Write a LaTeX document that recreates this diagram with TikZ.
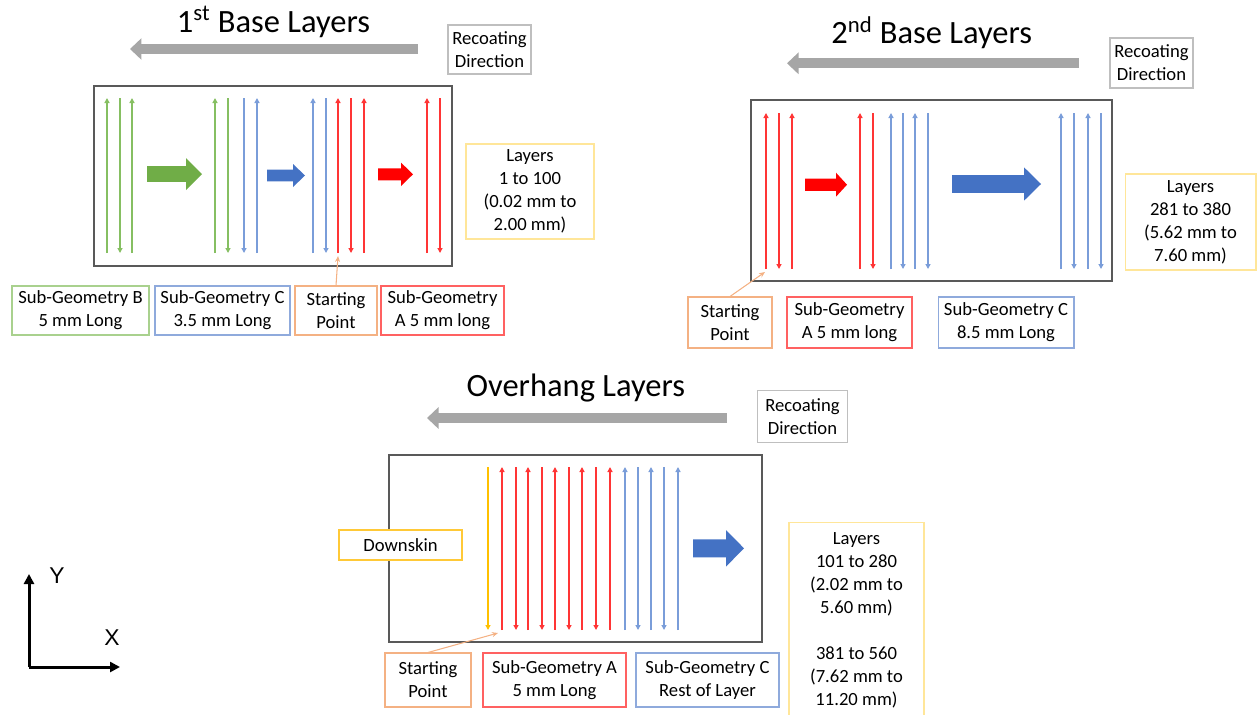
\documentclass[tikz,border=0pt]{standalone}
\usepackage{fontspec}
\setmainfont{Carlito}
\newfontfamily\axisfont{Liberation Sans}
\usepackage{tikz}
\usetikzlibrary{arrows.meta}
\definecolor{framegray}{HTML}{595959}
\definecolor{recoatgray}{HTML}{A6A6A6}
\definecolor{bdgray}{HTML}{BFBFBF}
\definecolor{bdgreen}{HTML}{A9D18E}
\definecolor{bdblue}{HTML}{8FAADC}
\definecolor{bdorange}{HTML}{F4B183}
\definecolor{bdred}{HTML}{FF6161}
\definecolor{bdyellow}{HTML}{FFE699}
\definecolor{bdgold}{HTML}{FFC937}
\definecolor{scangreen}{HTML}{86BF62}
\definecolor{scanblue}{HTML}{7A9DD9}
\definecolor{scanred}{HTML}{FF3535}
\definecolor{scanyellow}{HTML}{FFC000}
\definecolor{arrgreen}{HTML}{70AD47}
\definecolor{arrblue}{HTML}{4472C4}
\definecolor{arrred}{HTML}{FF0000}
\tikzset{
  lblbox/.style={rectangle,draw,line width=0.6pt,fill=white,text=black,align=center,
    font=\fontsize{10.6}{13.1}\selectfont,inner sep=2pt},
  greenbox/.style={lblbox,draw=bdgreen},
  bluebox/.style={lblbox,draw=bdblue},
  orangebox/.style={lblbox,draw=bdorange},
  redbox/.style={lblbox,draw=bdred},
  layerbox/.style={lblbox,draw=bdyellow},
  recoatbox/.style={lblbox,draw=bdgray},
  panelframe/.style={draw=framegray,line width=0.8pt},
  scan/.style={line width=0.8pt,-{Triangle[length=0.1cm,width=0.1cm]}},
  recoat/.style={draw=recoatgray,line width=0.2cm,-{Triangle[length=0.23cm,width=0.42cm]}},
  leader/.style={draw=bdorange,line width=0.6pt,-{Stealth[length=0.12cm,width=0.1cm]}},
  titletext/.style={font=\fontsize{18.5}{22}\selectfont,anchor=base},
  axisarr/.style={line width=0.06cm,-{Triangle[length=0.2cm,width=0.2cm]}},
  axislabel/.style={font=\axisfont\fontsize{13}{15}\selectfont},
}
\begin{document}
\begin{tikzpicture}[x=0.02cm,y=-0.02cm]
  \useasboundingbox (0,0) rectangle (1257,714);

  % 1st base layers
  \node[titletext] (title1) at (273.5,32) {1\textsuperscript{st} Base Layers};
  \draw[recoat] (418,49) -- (130,49);
  \node[recoatbox,minimum width=1.66cm,minimum height=0.98cm] (rd1) at (489.5,49.5) {Recoating\\Direction};
  \draw[panelframe] (94,86) rectangle (452,266);
  \foreach \x in {107,132,215} \draw[scan,scangreen] (\x,253) -- (\x,98);
  \foreach \x in {120,228} \draw[scan,scangreen] (\x,98) -- (\x,253);
  \foreach \x in {257,313} \draw[scan,scanblue] (\x,253) -- (\x,98);
  \foreach \x in {244,326} \draw[scan,scanblue] (\x,98) -- (\x,253);
  \foreach \x in {338,364,427} \draw[scan,scanred] (\x,253) -- (\x,98);
  \foreach \x in {351,440} \draw[scan,scanred] (\x,98) -- (\x,253);
  \node[layerbox,minimum width=2.56cm,minimum height=1.9cm] (lay1) at (530,191.5) {Layers\\1 to 100\\(0.02 mm to\\2.00 mm)};
  \node[greenbox,minimum width=2.74cm,minimum height=0.98cm] (sgb1) at (80.5,310.5) {Sub-Geometry B\\5 mm Long};
  \node[bluebox,minimum width=2.7cm,minimum height=0.98cm] (sgc1) at (222.5,310.5) {Sub-Geometry C\\3.5 mm Long};
  \node[orangebox,minimum width=1.64cm,minimum height=0.98cm] (sp1) at (336,310.5) {Starting\\Point};
  \node[redbox,minimum width=2.46cm,minimum height=0.98cm] (sga1) at (442.5,310.5) {Sub-Geometry\\A 5 mm long};
  \coordinate (sp1tip) at (338,256);
  \draw[leader] (sp1.north) -- (sp1tip);

  % 2nd base layers
  \node[titletext] (title2) at (931.7,43.3) {2\textsuperscript{nd} Base Layers};
  \draw[recoat] (1079,63.3) -- (787,63.3);
  \node[recoatbox,minimum width=1.66cm,minimum height=1cm] (rd2) at (1151.5,63) {Recoating\\Direction};
  \draw[panelframe] (751,100) rectangle (1112,281);
  \foreach \x in {766,792,860} \draw[scan,scanred] (\x,269) -- (\x,113);
  \foreach \x in {779,873} \draw[scan,scanred] (\x,113) -- (\x,269);
  \foreach \x in {891,915,1061,1088} \draw[scan,scanblue] (\x,269) -- (\x,113);
  \foreach \x in {903,928,1074,1101} \draw[scan,scanblue] (\x,113) -- (\x,269);
  \node[layerbox,minimum width=2.62cm,minimum height=1.92cm] (lay2) at (1190.5,222) {Layers\\281 to 380\\(5.62 mm to\\7.60 mm)};
  \node[orangebox,minimum width=1.68cm,minimum height=1.02cm] (sp2) at (730,322.5) {Starting\\Point};
  \node[redbox,minimum width=2.5cm,minimum height=1.02cm] (sga2) at (849.5,322.5) {Sub-Geometry\\A 5 mm long};
  \node[bluebox,minimum width=2.72cm,minimum height=1.02cm] (sgc2) at (1006,322.5) {Sub-Geometry C\\8.5 mm Long};
  \coordinate (sp2tip) at (765,272);
  \draw[leader] (sp2.north) -- (sp2tip);

  % overhang layers
  \node[titletext] (title3) at (575.8,396.7) {Overhang Layers};
  \draw[recoat] (727,418) -- (427,418);
  \node[recoatbox,minimum width=1.8cm,minimum height=1.04cm] (rd3) at (802.5,416.5) {Recoating\\Direction};
  \draw[panelframe] (389,455) rectangle (762,642);
  \draw[scan,scanyellow] (488,467) -- (488,630);
  \foreach \x in {502,528,555,582,610} \draw[scan,scanred] (\x,630) -- (\x,467);
  \foreach \x in {516,542,569,596} \draw[scan,scanred] (\x,467) -- (\x,630);
  \foreach \x in {625,651,678} \draw[scan,scanblue] (\x,630) -- (\x,467);
  \foreach \x in {638,664} \draw[scan,scanblue] (\x,467) -- (\x,630);
  \node[lblbox,draw=bdgold,minimum width=2.46cm,minimum height=0.6cm] (dskin) at (400.5,545) {Downskin};
  \node[layerbox,minimum width=2.7cm,minimum height=3.92cm] (lay3) at (856.5,620) {Layers\\101 to 280\\(2.02 mm to\\5.60 mm)\\[13.1pt]381 to 560\\(7.62 mm to\\11.20 mm)};
  \node[orangebox,minimum width=1.72cm,minimum height=1.08cm] (sp3) at (428,680) {Starting\\Point};
  \node[redbox,minimum width=2.86cm,minimum height=1.08cm] (sga3) at (554.5,680) {Sub-Geometry A\\5 mm Long};
  \node[bluebox,minimum width=2.86cm,minimum height=1.08cm] (sgc3) at (707.5,680) {Sub-Geometry C\\Rest of Layer};
  \coordinate (sp3tip) at (498,633);
  \draw[leader] (sp3.north) -- (sp3tip);

  % block arrows: tail, head base, tip, centre, shaft half, head half
  \foreach \xa/\xb/\xc/\yc/\s/\h/\col in {147/186/202/174/7.8/16/arrgreen,
      267/293/305/175.5/5.8/11.5/arrblue, 378/401/413/174.3/6/11.7/arrred,
      805/836/847/184.7/6.2/12/arrred, 952/1024/1041/184/8.8/16.7/arrblue,
      693/726/744/548.3/9/18.3/arrblue}
    \fill[\col] (\xa,{\yc-\s}) -- (\xb,{\yc-\s}) -- (\xb,{\yc-\h}) -- (\xc,\yc)
      -- (\xb,{\yc+\h}) -- (\xb,{\yc+\s}) -- (\xa,{\yc+\s}) -- cycle;

  % axes
  \coordinate (orig) at (29,667);
  \coordinate (yend) at (29,574);
  \coordinate (xend) at (120,667);
  \draw[axisarr] (orig) -- (yend);
  \draw[axisarr] (orig) -- (xend);
  \node[axislabel] (ylab) at (57,576) {Y};
  \node[axislabel] (xlab) at (112,638) {X};
\end{tikzpicture}
\end{document}
